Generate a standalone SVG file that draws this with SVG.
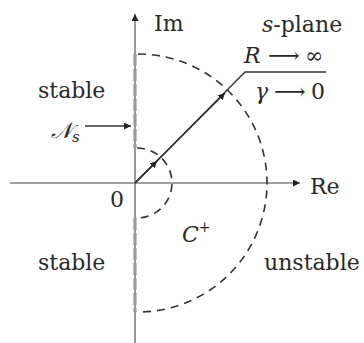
<svg xmlns="http://www.w3.org/2000/svg" width="364" height="343" viewBox="0 0 364 343">
<style>
text{font-family:"DejaVu Serif","Liberation Serif",serif;font-size:22px;fill:#2a2a2a}
.it{font-style:italic}
.ax{stroke:#808080;stroke-width:1.6;fill:none}
.arc{stroke:#333;stroke-width:1.6;fill:none;stroke-dasharray:8 6}
.ns{stroke:#9a9a9a;stroke-width:3.2;fill:none;stroke-dasharray:12 3}
.ln{stroke:#333;stroke-width:1.4;fill:none}
</style>
<defs>
<marker id="ah" viewBox="0 0 10 10" refX="10" refY="5" markerWidth="7" markerHeight="7" markerUnits="userSpaceOnUse" orient="auto">
<path d="M0,0 L10,5 L0,10 z" fill="#222"/>
</marker>
</defs>
<rect width="364" height="343" fill="#fff"/>
<g id="connectors">
<line class="ax" x1="135" y1="343" x2="135" y2="14" marker-end="url(#ah)"/>
<line class="ax" x1="10" y1="183" x2="300" y2="183" marker-end="url(#ah)"/>
<line class="ns" x1="135" y1="54" x2="135" y2="148"/>
<line class="ns" x1="135" y1="218" x2="135" y2="312"/>
<path class="arc" d="M138,54 A129,129 0 0 1 138,312"/>
<path class="arc" d="M137,148 A35,35 0 0 1 137,218"/>
<path class="ln" d="M135,183 L245,72 L326,72"/>
<line class="ln" x1="135" y1="183" x2="225" y2="93" marker-end="url(#ah)"/>
<line class="ln" x1="135" y1="183" x2="157" y2="161" marker-end="url(#ah)"/>
<line class="ln" x1="85" y1="126" x2="131" y2="126" marker-end="url(#ah)"/>
</g>
<g id="labels">
<text x="154" y="31">Im</text>
<text x="310" y="194">Re</text>
<text x="262" y="32"><tspan class="it">s</tspan>-plane</text>
<text y="63"><tspan class="it" x="244">R</tspan><tspan x="268" font-size="22">⟶</tspan><tspan x="305">∞</tspan></text>
<text y="99"><tspan class="it" x="255">γ</tspan><tspan x="274" font-size="22">⟶</tspan><tspan x="311">0</tspan></text>
<text x="38" y="98">stable</text>
<text x="51" y="138" class="it">𝒩<tspan font-size="15" dy="4">s</tspan></text>
<text x="110" y="207">0</text>
<text x="38" y="270">stable</text>
<text x="182" y="242" class="it">C<tspan font-size="14" dy="-10" font-style="normal">+</tspan></text>
<text x="264" y="270">unstable</text>
</g>
</svg>
